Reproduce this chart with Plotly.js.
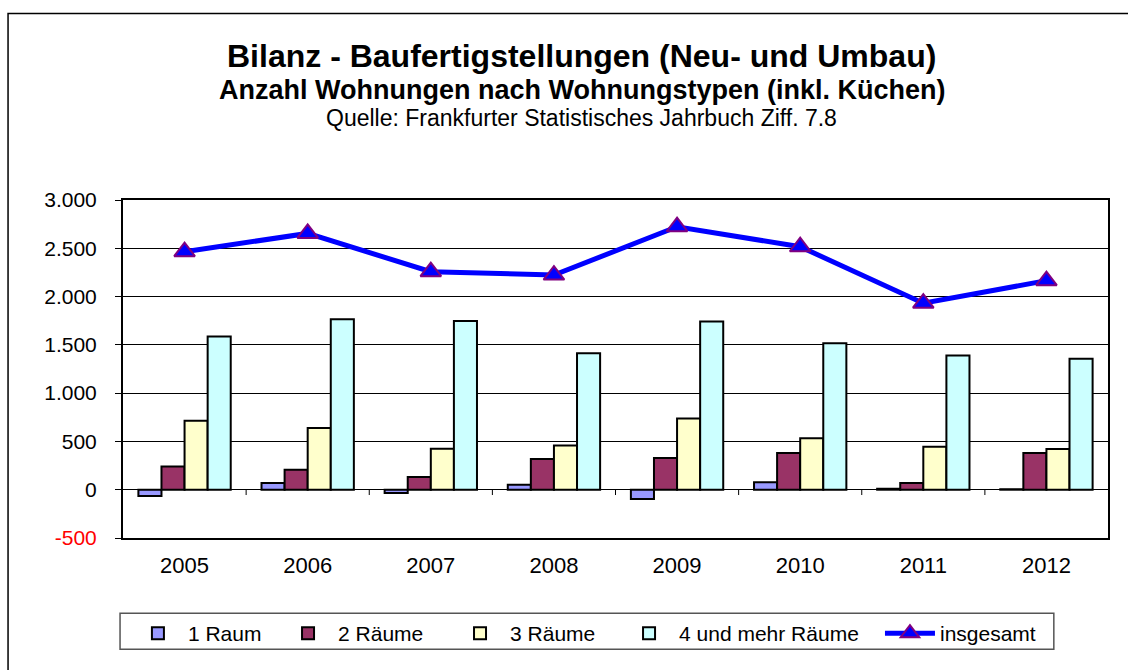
<!DOCTYPE html>
<html>
<head>
<meta charset="utf-8">
<script src="https://cdn.plot.ly/plotly-3.0.1.min.js"></script>
<style>html,body{margin:0;padding:0;background:#fff;}#chart{width:1128px;height:670px;}</style>
</head>
<body>
<div id="chart"></div>
<script>
const years = ['2005','2006','2007','2008','2009','2010','2011','2012'];
const raum1 = [-65, 69, -34, 52, -96, 76, 10, 5];
const raum2 = [241, 207, 131, 317, 328, 379, 69, 379];
const raum3 = [713, 638, 424, 458, 738, 534, 445, 421];
const raum4 = [1586, 1765, 1748, 1413, 1741, 1517, 1389, 1355];
const insgesamt = [2465, 2654, 2258, 2223, 2723, 2516, 1931, 2165];
const yTickVals = [-500, 0, 500, 1000, 1500, 2000, 2500, 3000];
const yTickText = ['<span style="color:#FF0000">-500</span>', '0', '500', '1.000', '1.500', '2.000', '2.500', '3.000'];

const FONT = 'Liberation Sans, Arial, sans-serif';
const barLine = {color: '#000000', width: 2};

const traces = [
  {type: 'bar', name: '1 Raum', x: years, y: raum1, legend: 'legend', marker: {color: '#9999FF', line: barLine}},
  {type: 'bar', name: '2 Räume', x: years, y: raum2, legend: 'legend2', marker: {color: '#993366', line: barLine}},
  {type: 'bar', name: '3 Räume', x: years, y: raum3, legend: 'legend3', marker: {color: '#FFFFCC', line: barLine}},
  {type: 'bar', name: '4 und mehr Räume', x: years, y: raum4, legend: 'legend4', marker: {color: '#CCFFFF', line: barLine}},
  {type: 'scatter', mode: 'lines+markers', name: 'insgesamt', x: years, y: insgesamt, legend: 'legend5',
   line: {color: '#0000FF', width: 5},
   marker: {symbol: 'triangle-up', size: 18, color: '#0000FF', line: {color: '#800080', width: 2}}}
];

// small tick marks on the zero line between categories
const shapes = [];
for (let i = 0; i < years.length - 1; i++) {
  shapes.push({type: 'line', xref: 'x', yref: 'y', x0: i + 0.5, x1: i + 0.5, y0: 0, y1: -55,
               line: {color: '#000', width: 1}});
}
// outer frame
shapes.push({type: 'rect', xref: 'paper', yref: 'paper', x0: -0.1167, x1: 1.2, y0: 1.552, y1: -0.6,
             line: {color: '#000', width: 1.5}, layer: 'below'});
// legend frame
shapes.push({type: 'rect', xref: 'paper', yref: 'paper', x0: -0.003, x1: 0.945, y0: -0.223, y1: -0.329,
             line: {color: '#555', width: 1.5}});

function leg(x) {
  return {orientation: 'h', x: x, y: -0.222, xanchor: 'left', yanchor: 'top',
          bgcolor: 'rgba(0,0,0,0)', borderwidth: 0, font: {family: FONT, size: 21}, itemwidth: 50};
}

const layout = {
  width: 1128, height: 670,
  margin: {l: 123, r: 20, t: 200, b: 132},
  paper_bgcolor: '#ffffff', plot_bgcolor: '#ffffff',
  separators: ',.',
  font: {family: FONT, size: 16, color: '#000'},
  barmode: 'group', bargap: 0.25, bargroupgap: 0,
  showlegend: true,
  legend: leg(0.005),
  legend2: leg(0.1574),
  legend3: leg(0.3320),
  legend4: leg(0.5036),
  legend5: leg(0.7685),
  xaxis: {type: 'category', showgrid: false, zeroline: false,
          showline: true, linecolor: '#000', linewidth: 2, mirror: true,
          ticks: '', tickfont: {family: FONT, size: 22}, ticklabelstandoff: 7},
  yaxis: {range: [-500, 3000], tickvals: yTickVals, ticktext: yTickText,
          showgrid: true, gridcolor: '#000', gridwidth: 1,
          zeroline: true, zerolinecolor: '#000', zerolinewidth: 1.5,
          showline: true, linecolor: '#000', linewidth: 2, mirror: true,
          ticks: 'outside', ticklen: 6, tickcolor: '#000', tickwidth: 1,
          tickfont: {family: FONT, size: 21}, ticklabelstandoff: 14},
  shapes: shapes,
  annotations: [
    {xref: 'paper', yref: 'paper', x: 0.4656, y: 1.4265, text: '<b>Bilanz - Baufertigstellungen (Neu- und Umbau)</b>',
     showarrow: false, font: {family: FONT, size: 32}, xanchor: 'center', yanchor: 'middle'},
    {xref: 'paper', yref: 'paper', x: 0.4656, y: 1.3265, text: '<b>Anzahl Wohnungen nach Wohnungstypen (inkl. Küchen)</b>',
     showarrow: false, font: {family: FONT, size: 27}, xanchor: 'center', yanchor: 'middle'},
    {xref: 'paper', yref: 'paper', x: 0.4656, y: 1.2412, text: 'Quelle: Frankfurter Statistisches Jahrbuch Ziff. 7.8',
     showarrow: false, font: {family: FONT, size: 23}, xanchor: 'center', yanchor: 'middle'}
  ]
};

Plotly.newPlot('chart', traces, layout, {displayModeBar: false, staticPlot: true});
</script>
</body>
</html>
